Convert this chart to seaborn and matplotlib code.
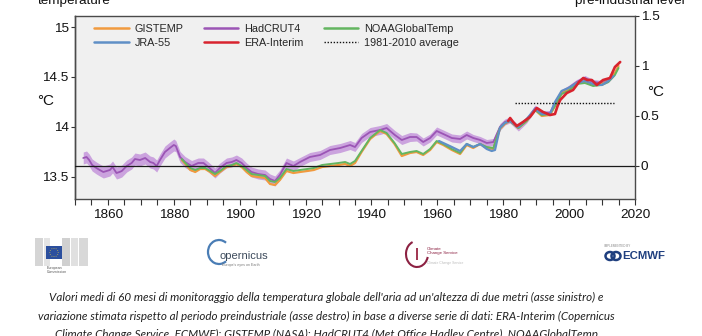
import numpy as np
import pandas as pd
import matplotlib
matplotlib.use('Agg')
import matplotlib.pyplot as plt
import seaborn as sns
from matplotlib.lines import Line2D
from matplotlib.patches import Rectangle, Arc, Circle, Ellipse
from matplotlib.ticker import MultipleLocator

# ---------------- data (anomaly vs pre-industrial, degC) ----------------
had_years = [1852.5, 1853.5, 1854.3, 1855.2, 1856.5, 1857.5, 1858.6, 1859.6, 1860.6, 1861.4,
             1862.6, 1863.5, 1864.2, 1865.7, 1867.2, 1868.2, 1869.7, 1870.5, 1871.3, 1872.8,
             1873.8, 1874.8, 1875.8, 1877.3, 1878.8, 1880.0, 1880.6, 1881.9, 1883.4, 1885.4,
             1887.4, 1889.0, 1890.5, 1892.5, 1894.0, 1896.0, 1897.6, 1899.0, 1900.6, 1902.1,
             1903.6, 1905.6, 1907.7, 1909.2, 1910.7, 1912.2, 1914.2, 1916.3, 1918.3, 1921.3,
             1924.4, 1927.4, 1930.5, 1933.5, 1935.0, 1937.0, 1939.6, 1942.6, 1944.6, 1947.1,
             1949.2, 1951.7, 1953.7, 1955.7, 1957.8, 1959.8, 1961.8, 1964.4, 1966.9, 1968.9,
             1970.9, 1973.0, 1975.0, 1977.0, 1979.0, 1980.5, 1982.0, 1984.6, 1987.1, 1989.7,
             1991.7, 1994.2, 1995.7, 1997.7, 1999.8, 2002.3, 2004.8, 2007.3, 2009.9, 2011.9,
             2013.9]
hadcrut4 = [0.08, 0.09, 0.06, 0.01, -0.02, -0.04, -0.06, -0.05, -0.04, -0.01,
            -0.07, -0.06, -0.05, 0.00, 0.03, 0.07, 0.06, 0.07, 0.08, 0.04,
            0.03, 0.00, 0.06, 0.14, 0.18, 0.21, 0.20, 0.09, 0.04, 0.00,
            0.03, 0.03, -0.01, -0.07, -0.02, 0.03, 0.04, 0.06, 0.03, -0.02,
            -0.06, -0.08, -0.09, -0.13, -0.15, -0.09, 0.03, 0.00, 0.04, 0.09,
            0.11, 0.16, 0.18, 0.21, 0.19, 0.28, 0.34, 0.36, 0.38, 0.31,
            0.26, 0.29, 0.29, 0.24, 0.28, 0.35, 0.32, 0.28, 0.27, 0.31,
            0.28, 0.26, 0.23, 0.24, 0.39, 0.44, 0.46, 0.38, 0.46, 0.58,
            0.53, 0.53, 0.63, 0.74, 0.78, 0.84, 0.88, 0.84, 0.83, 0.86,
            0.93]
hadcrut4_unc = [0.06, 0.06, 0.06, 0.06, 0.06, 0.06, 0.06, 0.06, 0.06, 0.06,
                0.06, 0.06, 0.06, 0.06, 0.06, 0.06, 0.06, 0.06, 0.06, 0.06,
                0.06, 0.06, 0.06, 0.06, 0.06, 0.06, 0.055, 0.055, 0.055, 0.055,
                0.05, 0.05, 0.05, 0.05, 0.05, 0.05, 0.05, 0.05, 0.05, 0.05,
                0.05, 0.05, 0.05, 0.05, 0.05, 0.05, 0.05, 0.05, 0.045, 0.045,
                0.045, 0.045, 0.045, 0.045, 0.045, 0.045, 0.045, 0.045, 0.045, 0.045,
                0.045, 0.045, 0.04, 0.04, 0.04, 0.04, 0.04, 0.04, 0.04, 0.04,
                0.035, 0.035, 0.035, 0.035, 0.035, 0.03, 0.03, 0.03, 0.03, 0.03,
                0.025, 0.025, 0.025, 0.025, 0.025, 0.025, 0.025, 0.025, 0.025, 0.025,
                0.025]

gis_years = [1882.4, 1883.5, 1885.0, 1886.5, 1888.0, 1889.5, 1891.0, 1892.5, 1894.0, 1896.0,
             1897.6, 1899.0, 1900.6, 1902.1, 1903.6, 1905.6, 1907.7, 1909.2, 1910.7, 1912.2,
             1914.2, 1916.3, 1918.3, 1920.5, 1922.5, 1925.0, 1927.5, 1930.0, 1932.0, 1933.5,
             1935.0, 1937.0, 1939.6, 1942.6, 1944.6, 1947.0, 1949.2, 1951.7, 1953.7, 1955.7,
             1957.8, 1959.8, 1961.8, 1964.4, 1966.9, 1968.9, 1970.9, 1973.0, 1975.0, 1977.0,
             1979.0, 1980.5, 1982.0, 1984.6, 1987.1, 1989.7, 1991.7, 1994.2, 1995.7, 1997.7,
             1999.8, 2002.3, 2004.8, 2007.3, 2009.9, 2011.9, 2013.9, 2015.0]
gistemp = [0.06, 0.02, -0.04, -0.06, -0.03, -0.03, -0.06, -0.10, -0.06, -0.01,
           0.00, 0.02, -0.01, -0.06, -0.10, -0.11, -0.12, -0.18, -0.19, -0.14,
           -0.05, -0.07, -0.06, -0.05, -0.04, -0.01, 0.00, 0.01, 0.02, 0.00,
           0.03, 0.14, 0.27, 0.35, 0.32, 0.22, 0.10, 0.13, 0.14, 0.11,
           0.16, 0.24, 0.21, 0.16, 0.12, 0.21, 0.18, 0.22, 0.18, 0.17,
           0.37, 0.42, 0.45, 0.38, 0.45, 0.56, 0.50, 0.51, 0.60, 0.73,
           0.76, 0.83, 0.84, 0.81, 0.82, 0.85, 0.93, 1.00]
noaa = [0.07, 0.03, -0.02, -0.04, -0.02, -0.02, -0.05, -0.08, -0.05, 0.00,
        0.01, 0.03, 0.00, -0.04, -0.08, -0.09, -0.10, -0.15, -0.16, -0.12,
        -0.03, -0.05, -0.04, -0.03, -0.02, 0.01, 0.02, 0.03, 0.04, 0.02,
        0.05, 0.15, 0.28, 0.36, 0.33, 0.23, 0.12, 0.14, 0.15, 0.12,
        0.17, 0.25, 0.22, 0.17, 0.13, 0.22, 0.19, 0.22, 0.19, 0.18,
        0.38, 0.43, 0.45, 0.38, 0.45, 0.56, 0.51, 0.52, 0.60, 0.72,
        0.75, 0.82, 0.83, 0.80, 0.81, 0.84, 0.91, 0.98]

jra_years = [1960.5, 1961.8, 1964.4, 1966.9, 1968.9, 1970.9, 1973.0, 1975.0, 1976.5, 1977.5,
             1979.0, 1980.5, 1982.0, 1984.6, 1987.1, 1989.7, 1991.7, 1994.2, 1995.7, 1997.7,
             1999.8, 2002.3, 2004.8, 2007.3, 2009.9, 2011.9, 2013.5]
jra55 = [0.25, 0.23, 0.19, 0.15, 0.22, 0.19, 0.22, 0.17, 0.15, 0.16,
         0.38, 0.43, 0.45, 0.39, 0.47, 0.57, 0.52, 0.52, 0.64, 0.75,
         0.78, 0.83, 0.85, 0.82, 0.81, 0.85, 0.90]

era_years = [1981.5, 1982.1, 1983.0, 1984.1, 1986.0, 1988.1, 1990.2, 1992.1, 1994.2, 1995.7,
             1996.5, 1997.3, 1999.3, 2001.2, 2003.0, 2004.3, 2005.5, 2006.9, 2008.4, 2010.3,
             2012.4, 2013.9, 2015.5]
era_interim = [0.45, 0.48, 0.44, 0.40, 0.44, 0.49, 0.58, 0.54, 0.51, 0.52,
               0.60, 0.66, 0.73, 0.76, 0.84, 0.88, 0.86, 0.86, 0.81, 0.86,
               0.88, 0.99, 1.04]

avg_years = [1983.5, 2013.5]
avg_value = 0.63          # 1981-2010 average
offset = 13.61            # absolute temperature of the pre-industrial level

series_names = ['GISTEMP', 'JRA-55', 'HadCRUT4', 'ERA-Interim', 'NOAAGlobalTemp']
colors = {'GISTEMP': '#f19a3e', 'HadCRUT4': '#9b55b5', 'NOAAGlobalTemp': '#63b560',
          'JRA-55': '#5f8fc6', 'ERA-Interim': '#d8232e'}
band_color = '#cba3de'

caption = ["Valori medi di 60 mesi di monitoraggio della temperatura globale dell'aria ad un'altezza di due metri (asse sinistro) e",
           "variazione stimata rispetto al periodo preindustriale (asse destro) in base a diverse serie di dati: ERA-Interim (Copernicus",
           "Climate Change Service, ECMWF); GISTEMP (NASA); HadCRUT4 (Met Office Hadley Centre), NOAAGlobalTemp"]

# ---------------- style ----------------
sns.set_style('ticks')
plt.rcParams['font.family'] = ['Liberation Sans', 'DejaVu Sans']

W, H = 702, 336
fig = plt.figure(figsize=(W / 100, H / 100), dpi=100)
fig.patch.set_facecolor('white')

def fx(px):
    return px / W

def fy(py):
    return 1 - py / H

ax = fig.add_axes([fx(75), fy(199), 560 / W, 183 / H])
ax.set_facecolor('#f0f0f0')

# band + lines
had_df = pd.DataFrame({'year': had_years, 'v': hadcrut4, 'u': hadcrut4_unc})
ax.fill_between(had_df['year'], had_df['v'] - had_df['u'], had_df['v'] + had_df['u'],
                color=band_color, lw=0, zorder=2)
sns.lineplot(data=had_df, x='year', y='v', ax=ax, color=colors['HadCRUT4'], lw=1.3,
             estimator=None, sort=False, zorder=3)
sns.lineplot(x=gis_years, y=gistemp, ax=ax, color=colors['GISTEMP'], lw=1.6,
             estimator=None, sort=False, zorder=4)
sns.lineplot(x=gis_years, y=noaa, ax=ax, color=colors['NOAAGlobalTemp'], lw=1.4,
             estimator=None, sort=False, zorder=5)
sns.lineplot(x=jra_years, y=jra55, ax=ax, color=colors['JRA-55'], lw=1.6,
             estimator=None, sort=False, zorder=6)
sns.lineplot(x=era_years, y=era_interim, ax=ax, color=colors['ERA-Interim'], lw=1.9,
             estimator=None, sort=False, zorder=7)
ax.plot(avg_years, [avg_value, avg_value], color='#111111', lw=1.0, ls=(0, (1, 1.2)), zorder=8)
ax.axhline(0, color='#1a1a1a', lw=0.9, zorder=9)

ax.set_xlim(1850, 2020)
ax.set_ylim(-0.33, 1.5)
ax.set_xlabel('')
ax.set_ylabel('')
ax.xaxis.set_major_locator(MultipleLocator(20))
ax.xaxis.set_minor_locator(MultipleLocator(5))
ax.yaxis.tick_right()
ax.set_yticks([0, 0.5, 1, 1.5])
ax.set_yticklabels(['0', '0.5', '1', '1.5'])
ax.tick_params(axis='x', which='both', direction='out', length=4.5, width=0.8,
               color='#333333', labelcolor='#111111', labelsize=9.7, pad=3)
ax.tick_params(axis='y', which='both', direction='out', length=3.2, width=0.8,
               color='#333333', labelcolor='#111111', labelsize=9.7, pad=1)
for s in ax.spines.values():
    s.set_visible(True)
    s.set_color('#4a4a4a')
    s.set_linewidth(1.0)

sec = ax.secondary_yaxis('left', functions=(lambda y: y + offset, lambda y: y - offset))
sec.set_yticks([13.5, 14, 14.5, 15])
sec.set_yticklabels(['13.5', '14', '14.5', '15'])
sec.tick_params(axis='y', direction='out', length=3.2, width=0.8, color='#333333',
                labelcolor='#111111', labelsize=9.7, pad=1.2)
sec.spines['left'].set_color('#4a4a4a')
sec.spines['left'].set_linewidth(1.0)

# legend
handles = [Line2D([], [], color=colors[n], lw=1.8) for n in series_names]
handles.append(Line2D([], [], color='#111111', lw=1.0, ls=(0, (1, 1.2))))
labels = series_names + ['1981-2010 average']
ax.legend(handles, labels, ncol=3, loc='upper left', bbox_to_anchor=(19 / 560, 1 - 8 / 183),
          frameon=False, fontsize=7.8, handlelength=3.2, handletextpad=0.55,
          columnspacing=1.85, labelspacing=0.38, borderpad=0, borderaxespad=0)

# unit labels
fig.text(fx(46), fy(101), '°C', fontsize=11, ha='center', va='center', color='#111111')
fig.text(fx(656), fy(92), '°C', fontsize=11, ha='center', va='center', color='#111111')

# cut-off titles at top (cropped in the original picture)
fig.text(fx(38), fy(4), 'temperature', fontsize=9.7, ha='left', va='baseline', color='#111111')
fig.text(fx(685), fy(4), 'pre-industrial level', fontsize=9.7, ha='right', va='baseline',
         color='#111111')

# ---------------- logos (approximate) ----------------
# European Commission
for x0, w0, c in [(35, 8, '#d5d5d5'), (44, 6, '#e4e4e4'), (62, 8, '#d0d0d0'),
                  (71, 7, '#e0e0e0'), (79, 9, '#d8d8d8')]:
    fig.add_artist(Rectangle((fx(x0), fy(266)), w0 / W, 28 / H, transform=fig.transFigure,
                             color=c, lw=0))
fig.add_artist(Rectangle((fx(46), fy(259)), 16 / W, 13 / H, transform=fig.transFigure,
                         color='#2b4f9e', lw=0))
for k in range(12):
    a = 2 * np.pi * k / 12
    fig.add_artist(Circle((fx(54 + 4.2 * np.cos(a)), fy(252.5 + 4.2 * np.sin(a))), 0.6 / W,
                          transform=fig.transFigure, color='#f4d23c', lw=0))
fig.text(fx(47), fy(270), 'European\nCommission', fontsize=2.6, color='#555555',
         va='center', ha='left', linespacing=1.0)

# Copernicus
fig.add_artist(Arc((fx(219), fy(252)), 22 / W, 24 / H, theta1=70, theta2=290,
                   transform=fig.transFigure, color='#4a7db5', lw=1.6))
fig.text(fx(219), fy(256), 'opernicus', fontsize=8, color='#3d4b5c', va='center', ha='left')
fig.text(fx(222), fy(265), "Europe's eyes on Earth", fontsize=2.6, color='#777777',
         va='center', ha='left')

# Climate Change Service
fig.add_artist(Arc((fx(417), fy(254)), 22 / W, 26 / H, theta1=100, theta2=330,
                   transform=fig.transFigure, color='#8c2142', lw=1.5))
fig.add_artist(Rectangle((fx(416), fy(260)), 2 / W, 12 / H, transform=fig.transFigure,
                         color='#a33a55', lw=0))
fig.text(fx(427), fy(251), 'Climate\nChange Service', fontsize=3.2, color='#8c2142',
         va='center', ha='left', linespacing=1.1)
fig.text(fx(427), fy(263), 'Climate Change Service', fontsize=2.4, color='#bbbbbb',
         va='center', ha='left')

# ECMWF
fig.text(fx(604), fy(246), 'IMPLEMENTED BY', fontsize=2.2, color='#888888', va='center', ha='left')
fig.add_artist(Ellipse((fx(610), fy(256)), 9 / W, 8 / H, transform=fig.transFigure,
                       fill=False, ec='#1f3f7f', lw=1.8))
fig.add_artist(Ellipse((fx(616), fy(256)), 9 / W, 8 / H, transform=fig.transFigure,
                       fill=False, ec='#1f3f7f', lw=1.8))
fig.text(fx(622), fy(256), 'ECMWF', fontsize=8.2, fontweight='bold', color='#1f3f7f',
         va='center', ha='left')

# ---------------- caption ----------------
renderer = fig.canvas.get_renderer()
cap_texts = []
for line, ypx in zip(caption, [297, 316, 334]):
    t = fig.text(fx(326), fy(ypx), line, fontsize=10, style='italic',
                 family=['Lato', 'DejaVu Sans'], color='#222222', ha='center', va='center')
    cap_texts.append(t)
w2 = cap_texts[1].get_window_extent(renderer=renderer).width
fs = 10 * 577 / w2
for t in cap_texts:
    t.set_fontsize(fs)

fig.savefig('out.png', dpi=100, facecolor='white')
